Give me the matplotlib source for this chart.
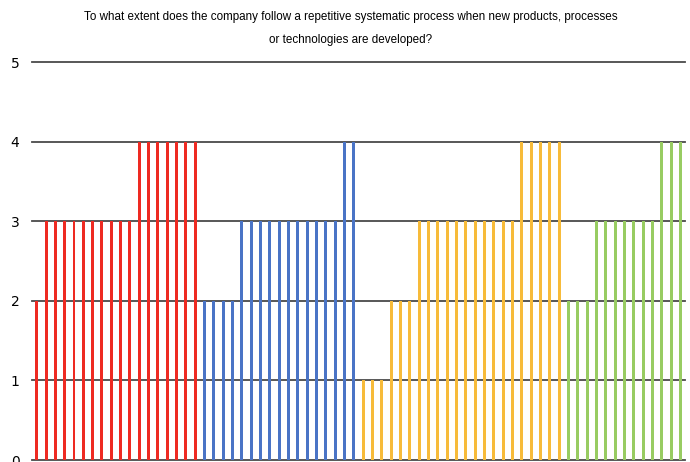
import matplotlib.pyplot as plt
import numpy as np

# answers per respondent, grouped by company
red_vals = [2, 3, 3, 3, 3, 3, 3, 3, 3, 3, 3, 4, 4, 4, 4, 4, 4, 4]
blue_vals = [2, 2, 2, 2, 3, 3, 3, 3, 3, 3, 3, 3, 3, 3, 3, 4, 4]
yellow_vals = [1, 1, 1, 2, 2, 2, 3, 3, 3, 3, 3, 3, 3, 3, 3, 3, 3, 4, 4, 4, 4, 4]
green_vals = [2, 2, 2, 3, 3, 3, 3, 3, 3, 3, 4, 4, 4]

groups = [
    (red_vals, '#ee2a22'),
    (blue_vals, '#4a74c6'),
    (yellow_vals, '#f7bb3a'),
    (green_vals, '#98cc62'),
]

title = ('To what extent does the company follow a repetitive systematic process when new products, processes\n'
         'or technologies are developed?')

fig = plt.figure(figsize=(6.9, 4.62), dpi=100)
ax = fig.add_axes([0.0464, 0.0043, 0.9464, 0.8615])

start = 0
for vals, col in groups:
    x = np.arange(start, start + len(vals))
    ax.bar(x, vals, width=0.32, color=col, zorder=3)
    start += len(vals)

ax.set_xlim(-0.5, start - 0.5)
ax.set_ylim(0, 5)
ax.set_yticks([0, 1, 2, 3, 4, 5])
ax.yaxis.grid(True, color='#4a4a4a', linewidth=1.3, zorder=0)
for gl in ax.get_ygridlines():
    gl.set_clip_on(False)
ax.set_xticks([])
for s in ['top', 'right', 'left', 'bottom']:
    ax.spines[s].set_visible(False)
ax.tick_params(axis='y', length=0, pad=9, labelsize=10)

fig.text(0.5087, 0.938, title, ha='center', va='center', fontsize=8.4,
         linespacing=2.2, family='Liberation Sans')

fig.savefig('out.png', dpi=100)
